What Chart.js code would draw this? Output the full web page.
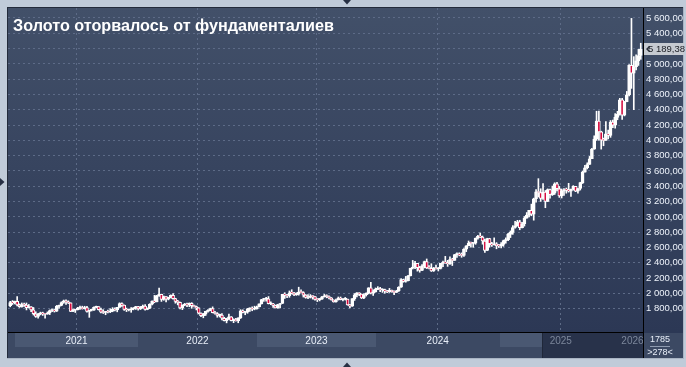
<!DOCTYPE html>
<html>
<head>
<meta charset="utf-8">
<script src="https://cdn.jsdelivr.net/npm/chart.js@4.4.1/dist/chart.umd.min.js"></script>
<style>
  html, body { margin: 0; padding: 0; background: #c0cbd9; }
  canvas { display: block; }
</style>
</head>
<body>
<canvas id="goldChart" width="686" height="367"></canvas>
<script>
// weekly candles (XAU, USD), first week = 14 Dec 2020, open of a week = previous close
const firstOpen = 1839;

const close2020 = [1881, 1877, 1895];
const high2020 = [1896, 1906, 1900];
const low2020 = [1825, 1855, 1863];

const close2021 = [1849, 1828, 1855, 1848, 1813, 1824, 1784, 1734, 1700, 1727, 1745, 1732, 1728, 1744, 1777, 1777, 1768, 1831, 1843, 1881, 1903, 1891, 1877, 1764, 1781, 1787, 1808, 1812, 1802, 1814, 1763, 1780, 1781, 1818, 1828, 1788, 1754, 1750, 1761, 1757, 1768, 1793, 1783, 1818, 1868, 1846, 1792, 1783, 1783, 1798, 1809, 1829];
const high2021 = [1959, 1863, 1875, 1875, 1875, 1855, 1827, 1816, 1760, 1740, 1755, 1755, 1740, 1758, 1784, 1797, 1790, 1843, 1846, 1890, 1913, 1916, 1903, 1877, 1795, 1790, 1818, 1834, 1833, 1832, 1832, 1782, 1795, 1823, 1834, 1828, 1809, 1787, 1765, 1781, 1800, 1814, 1810, 1818, 1877, 1877, 1849, 1808, 1793, 1815, 1815, 1831];
const low2021 = [1835, 1816, 1820, 1831, 1784, 1811, 1760, 1717, 1687, 1677, 1719, 1712, 1677, 1727, 1723, 1760, 1756, 1763, 1808, 1838, 1870, 1855, 1867, 1761, 1761, 1750, 1783, 1791, 1794, 1795, 1753, 1687, 1770, 1778, 1810, 1782, 1745, 1737, 1721, 1746, 1749, 1760, 1770, 1759, 1817, 1831, 1778, 1762, 1770, 1753, 1785, 1789];

const close2022 = [1797, 1817, 1835, 1791, 1807, 1859, 1898, 1889, 1970, 1988, 1921, 1958, 1925, 1947, 1974, 1931, 1896, 1883, 1811, 1846, 1853, 1851, 1871, 1840, 1827, 1811, 1742, 1708, 1727, 1766, 1775, 1802, 1747, 1737, 1712, 1716, 1675, 1644, 1661, 1695, 1644, 1657, 1644, 1681, 1771, 1751, 1754, 1797, 1797, 1793, 1798, 1824];
const high2022 = [1831, 1830, 1848, 1853, 1810, 1865, 1902, 1974, 1974, 2070, 1990, 1966, 1960, 1950, 1981, 1998, 1937, 1909, 1886, 1850, 1869, 1874, 1876, 1879, 1847, 1835, 1814, 1745, 1739, 1767, 1788, 1807, 1824, 1765, 1749, 1730, 1735, 1688, 1676, 1730, 1697, 1668, 1675, 1682, 1787, 1786, 1759, 1804, 1810, 1824, 1833, 1833];
const low2022 = [1782, 1789, 1805, 1780, 1786, 1800, 1850, 1878, 1889, 1960, 1895, 1910, 1890, 1915, 1940, 1925, 1872, 1850, 1798, 1787, 1838, 1828, 1826, 1805, 1823, 1784, 1732, 1697, 1681, 1711, 1754, 1773, 1745, 1727, 1688, 1691, 1654, 1639, 1615, 1659, 1640, 1617, 1637, 1616, 1672, 1746, 1721, 1740, 1765, 1773, 1785, 1795];

const close2023 = [1865, 1920, 1926, 1928, 1865, 1865, 1842, 1811, 1855, 1868, 1989, 1978, 1969, 2008, 2004, 1983, 1990, 2017, 2011, 1977, 1946, 1948, 1961, 1958, 1921, 1919, 1925, 1955, 1962, 1959, 1943, 1914, 1889, 1914, 1940, 1919, 1924, 1925, 1848, 1833, 1932, 1981, 2006, 1992, 1940, 1981, 2002, 2072, 2004, 2019, 2053, 2063];
const high2023 = [1865, 1922, 1935, 1949, 1959, 1890, 1870, 1847, 1858, 1870, 1989, 2009, 1987, 2032, 2048, 2015, 2009, 2081, 2048, 2022, 1985, 1983, 1985, 1971, 1959, 1931, 1935, 1963, 1987, 1982, 1969, 1946, 1917, 1925, 1953, 1953, 1930, 1947, 1926, 1858, 1933, 1997, 2010, 2009, 1993, 1994, 2008, 2075, 2146, 2047, 2071, 2088];
const low2023 = [1824, 1860, 1896, 1900, 1862, 1853, 1818, 1809, 1805, 1809, 1867, 1934, 1944, 1949, 1992, 1969, 1974, 1977, 2005, 1952, 1937, 1932, 1940, 1925, 1910, 1893, 1902, 1921, 1952, 1942, 1928, 1912, 1885, 1884, 1913, 1915, 1901, 1913, 1846, 1810, 1830, 1908, 1953, 1970, 1932, 1931, 1965, 1993, 1993, 1973, 2016, 2049];

const close2024 = [2045, 2049, 2029, 2018, 2039, 2024, 2013, 2035, 2083, 2179, 2155, 2165, 2230, 2329, 2344, 2392, 2337, 2301, 2360, 2415, 2333, 2327, 2293, 2333, 2322, 2326, 2392, 2411, 2400, 2387, 2443, 2431, 2507, 2512, 2503, 2497, 2578, 2622, 2658, 2653, 2657, 2721, 2747, 2736, 2685, 2563, 2716, 2650, 2633, 2648, 2622, 2621, 2640];
const high2024 = [2078, 2062, 2056, 2039, 2065, 2044, 2032, 2041, 2088, 2195, 2185, 2222, 2236, 2330, 2431, 2418, 2392, 2353, 2378, 2422, 2450, 2364, 2388, 2339, 2369, 2339, 2392, 2424, 2484, 2432, 2477, 2460, 2509, 2531, 2531, 2529, 2586, 2625, 2685, 2672, 2658, 2725, 2758, 2790, 2750, 2710, 2721, 2721, 2666, 2726, 2664, 2639, 2665];
const low2024 = [2024, 2013, 2002, 2010, 2013, 2015, 1984, 2011, 2025, 2078, 2146, 2146, 2164, 2228, 2319, 2324, 2291, 2277, 2297, 2333, 2325, 2320, 2286, 2287, 2316, 2293, 2319, 2350, 2393, 2353, 2380, 2364, 2431, 2470, 2491, 2472, 2485, 2546, 2621, 2603, 2603, 2642, 2708, 2730, 2643, 2537, 2558, 2605, 2613, 2632, 2583, 2600, 2596];

const close2025 = [2690, 2703, 2771, 2798, 2861, 2882, 2936, 2858, 2910, 2984, 3023, 3085, 3037, 3237, 3327, 3319, 3240, 3325, 3202, 3357, 3289, 3310, 3432, 3368, 3274, 3337, 3355, 3350, 3337, 3363, 3398, 3336, 3371, 3448, 3586, 3643, 3685, 3760, 3886, 4018, 4252, 4112, 4002, 4000, 4085, 4065, 4240, 4198, 4300, 4340, 4530, 4330];
const high2025 = [2697, 2726, 2786, 2817, 2886, 2942, 2955, 2956, 2930, 3005, 3057, 3087, 3167, 3245, 3357, 3500, 3368, 3435, 3345, 3366, 3365, 3403, 3446, 3452, 3398, 3365, 3369, 3377, 3439, 3363, 3409, 3400, 3378, 3453, 3600, 3674, 3707, 3791, 3897, 4060, 4381, 4382, 4120, 4030, 4245, 4135, 4260, 4265, 4350, 4380, 4550, 4550];
const low2025 = [2615, 2656, 2689, 2730, 2772, 2854, 2880, 2832, 2857, 2880, 2982, 3000, 3015, 2957, 3194, 3260, 3202, 3228, 3120, 3200, 3245, 3280, 3293, 3340, 3255, 3247, 3282, 3310, 3324, 3268, 3350, 3330, 3311, 3351, 3436, 3584, 3627, 3685, 3760, 3884, 4000, 4004, 3886, 3930, 4000, 4020, 4040, 4165, 4160, 4270, 4330, 4275];

const close2026 = [4505, 4595, 4980, 4880, 4965, 5040, 5110, 5189.38];
const high2026 = [4510, 4640, 4990, 5595, 5095, 5120, 5190, 5270];
const low2026 = [4320, 4505, 4580, 4680, 4402, 4920, 4980, 5060];

// x axis in weeks from 4 Jan 2021
const firstWeek = -3;
const yearTicks = [-0.43, 52.43, 103.57, 154.7, 207.8, 260.43];
const yearLabels = ['2021', '2022', '2023', '2024', '2025', '2026'];
const priceTicks = [1800, 2000, 2200, 2400, 2600, 2800, 3000, 3200, 3400, 3600, 3800, 4000, 4200, 4400, 4600, 4800, 5000, 5200, 5400, 5600];
const scrollFrom = 226;
const counterTop = '1785';
const counterBottom = '>278<';

const closes = [...close2020, ...close2021, ...close2022, ...close2023, ...close2024, ...close2025, ...close2026];
const highs = [...high2020, ...high2021, ...high2022, ...high2023, ...high2024, ...high2025, ...high2026];
const lows = [...low2020, ...low2021, ...low2022, ...low2023, ...low2024, ...low2025, ...low2026];
const opens = closes.map((c, i) => (i === 0 ? firstOpen : closes[i - 1]));
const weekPos = closes.map((c, i) => firstWeek + i + 0.5);

const upColor = 'rgba(0,0,0,0)';
const downColor = '#d40a3e';
const gridColor = '#5d6b87';
const labelFont = '"Liberation Sans", Arial, sans-serif';

const fmtPrice = (v) => {
    const [intPart, dec] = Number(v).toFixed(2).split('.');
    return intPart.replace(/\B(?=(\d{3})+(?!\d))/g, ' ') + ',' + dec;
};

const frame = {
    id: 'frame',
    beforeDraw(chart) {
        const { ctx } = chart;
        ctx.save();
        ctx.fillStyle = '#c0cbd9';
        ctx.fillRect(0, 0, 686, 367);
        const grad = ctx.createLinearGradient(0, 8, 0, 332);
        grad.addColorStop(0, '#425069');
        grad.addColorStop(1, '#2c3855');
        ctx.fillStyle = grad;
        ctx.fillRect(8, 8, 675, 325);
        ctx.fillStyle = '#3c4963';
        ctx.fillRect(8, 333, 675, 25);
        ctx.restore();
    },
    afterDraw(chart) {
        const { ctx, chartArea } = chart;
        const xs = chart.scales.x;
        const ys = chart.scales.y;
        ctx.save();

        // year band
        const bandTop = chartArea.bottom + 1;
        const scrollX = Math.round(xs.getPixelForValue(scrollFrom));
        yearTicks.forEach((t, k) => {
            const x0 = xs.getPixelForValue(t);
            const x1 = k + 1 < yearTicks.length ? xs.getPixelForValue(yearTicks[k + 1]) : chartArea.right;
            if (k % 2 === 0) {
                ctx.fillStyle = '#4a5872';
                ctx.fillRect(Math.round(x0), bandTop, Math.round(x1) - Math.round(x0), 14);
            }
        });
        ctx.fillStyle = '#28324a';
        ctx.fillRect(scrollX, bandTop, chartArea.right - scrollX, 25);
        ctx.fillStyle = '#1f2739';
        ctx.fillRect(scrollX, bandTop, 1, 25);
        ctx.font = '10px ' + labelFont;
        ctx.textAlign = 'center';
        ctx.textBaseline = 'middle';
        yearTicks.forEach((t, k) => {
            const x0 = xs.getPixelForValue(t);
            const x1 = k + 1 < yearTicks.length ? xs.getPixelForValue(yearTicks[k + 1]) : chartArea.right;
            const cx = (x0 + x1) / 2;
            ctx.fillStyle = cx > scrollX ? '#7c879b' : '#e8eef8';
            ctx.fillText(yearLabels[k], cx, bandTop + 8);
        });

        // axis lines
        ctx.fillStyle = '#000000';
        ctx.fillRect(8, chartArea.bottom, chartArea.right - 8, 1);
        ctx.fillRect(chartArea.right, 7, 1, 351);

        // panel edges
        ctx.fillStyle = '#232b3b';
        ctx.fillRect(7, 7, 677, 1);
        ctx.fillRect(7, 7, 1, 352);
        ctx.fillStyle = '#a9b4c3';
        ctx.fillRect(7, 358, 677, 1);
        ctx.fillRect(683, 7, 1, 352);

        // title
        ctx.textAlign = 'left';
        ctx.textBaseline = 'alphabetic';
        ctx.fillStyle = '#ffffff';
        ctx.font = 'bold 16.2px ' + labelFont;
        ctx.fillText('Золото оторвалось от фундаменталиев', 13, 30.5);

        // last price tag
        const last = closes[closes.length - 1];
        const py = Math.round(ys.getPixelForValue(last));
        ctx.fillStyle = '#c6cad1';
        ctx.fillRect(chartArea.right + 1, py - 6, 40, 12);
        ctx.fillStyle = '#2a2f3a';
        ctx.beginPath();
        ctx.moveTo(chartArea.right + 6, py - 3);
        ctx.lineTo(chartArea.right + 3, py);
        ctx.lineTo(chartArea.right + 6, py + 3);
        ctx.lineTo(chartArea.right + 7, py + 2);
        ctx.lineTo(chartArea.right + 5, py);
        ctx.lineTo(chartArea.right + 7, py - 2);
        ctx.closePath();
        ctx.fill();
        ctx.fillStyle = '#1a1d24';
        ctx.font = '9.5px ' + labelFont;
        ctx.textBaseline = 'middle';
        ctx.fillText(fmtPrice(last), chartArea.right + 5, py + 0.5);

        // counters bottom right
        ctx.textAlign = 'center';
        ctx.font = '9px ' + labelFont;
        ctx.fillStyle = '#e8eef8';
        ctx.fillText(counterTop, 660, 340);
        ctx.fillText(counterBottom, 660, 353);
        ctx.fillStyle = '#8f9bb0';
        ctx.fillRect(650, 346, 20, 1);

        // scroll arrows
        ctx.fillStyle = '#273044';
        ctx.beginPath();
        ctx.moveTo(343, 0); ctx.lineTo(351, 0); ctx.lineTo(347, 4.5); ctx.closePath(); ctx.fill();
        ctx.beginPath();
        ctx.moveTo(343, 367); ctx.lineTo(351, 367); ctx.lineTo(347, 362.5); ctx.closePath(); ctx.fill();
        ctx.beginPath();
        ctx.moveTo(0, 178); ctx.lineTo(0, 186); ctx.lineTo(4.5, 182); ctx.closePath(); ctx.fill();
        ctx.restore();
    }
};

new Chart(document.getElementById('goldChart'), {
    type: 'bar',
    data: {
        datasets: [
            {
                label: 'body',
                data: closes.map((c, i) => ({ x: weekPos[i], y: [opens[i], c] })),
                backgroundColor: closes.map((c, i) => (c < opens[i] ? downColor : upColor)),
                borderColor: '#ffffff',
                borderWidth: 1,
                borderSkipped: false,
                barThickness: 3,
                minBarLength: 1,
                grouped: false,
                order: 0,
            },
            {
                label: 'wick',
                data: closes.map((c, i) => ({ x: weekPos[i], y: [lows[i], highs[i]] })),
                backgroundColor: '#ffffff',
                borderWidth: 0,
                barThickness: 1,
                grouped: false,
                order: 1,
            },
        ],
    },
    plugins: [frame],
    options: {
        responsive: false,
        animation: false,
        devicePixelRatio: 1,
        layout: { padding: { left: 8, top: 8, right: 3, bottom: 35 } },
        plugins: { legend: { display: false }, tooltip: { enabled: false } },
        scales: {
            x: {
                type: 'linear',
                min: -3.438,
                max: 269.46,
                offset: false,
                afterBuildTicks: (scale) => { scale.ticks = yearTicks.map((v) => ({ value: v })); },
                afterFit: (scale) => { scale.height = 0; },
                ticks: { display: false },
                grid: { color: gridColor, lineWidth: 1, drawTicks: false },
                border: { display: false, dash: [2, 3] },
            },
            y: {
                position: 'right',
                min: 1495.4,
                max: 5730.7,
                afterBuildTicks: (scale) => { scale.ticks = priceTicks.map((v) => ({ value: v })); },
                afterFit: (scale) => { scale.width = 40; scale.paddingTop = 0; scale.paddingBottom = 0; },
                ticks: {
                    padding: 3,
                    color: '#eef3fb',
                    font: { family: labelFont, size: 9.5 },
                    callback: (v) => fmtPrice(v),
                },
                grid: { color: gridColor, lineWidth: 1, drawTicks: false },
                border: { display: false, dash: [2, 3] },
            },
        },
    },
});
</script>
</body>
</html>
